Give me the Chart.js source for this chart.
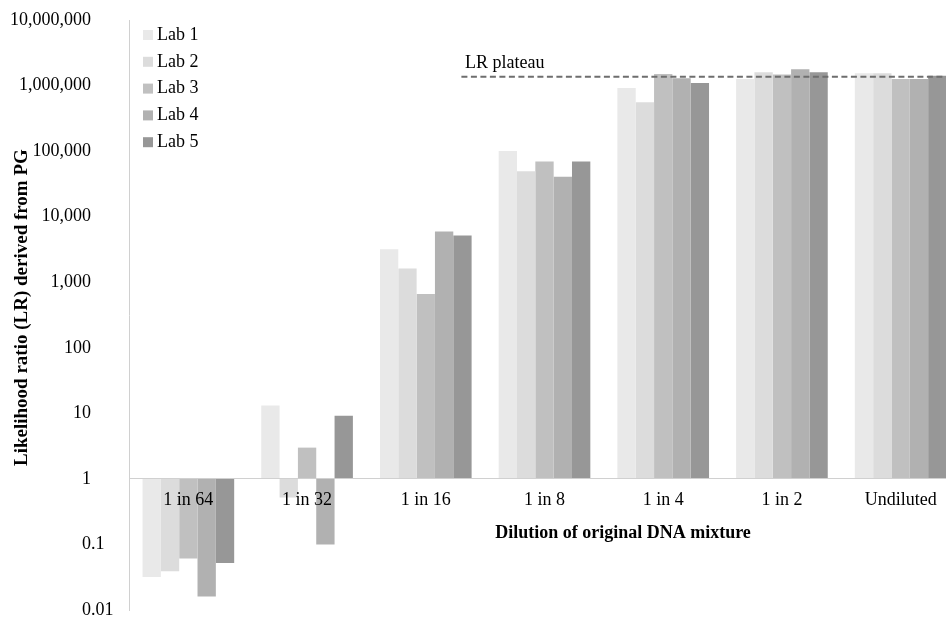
<!DOCTYPE html>
<html>
<head>
<meta charset="utf-8">
<script src="https://cdn.jsdelivr.net/npm/chart.js@4.4.1/dist/chart.umd.min.js"></script>
<style>
  html, body { margin: 0; padding: 0; background: #fff; overflow: hidden; }
  #wrap { width: 960px; height: 617px; }
</style>
</head>
<body>
<div id="wrap"><canvas id="chart" width="960" height="617"></canvas></div>
<script>
// data (LR values, log scale, bars hang from 1)
const dilutions = ['1 in 64', '1 in 32', '1 in 16', '1 in 8', '1 in 4', '1 in 2', 'Undiluted'];
const lab1 = [0.032, 13.2, 3190, 100000, 916000, 1260000, 1540000];
const lab2 = [0.039, 0.52, 1620, 49500, 554000, 1590000, 1540000];
const lab3 = [0.061, 3.0, 662, 69600, 1500000, 1480000, 1260000];
const lab4 = [0.016, 0.10, 5940, 40500, 1290000, 1770000, 1260000];
const lab5 = [0.052, 9.2, 5160, 69600, 1090000, 1590000, 1410000];
const labNames = ['Lab 1', 'Lab 2', 'Lab 3', 'Lab 4', 'Lab 5'];
const labColors = ['#e9e9e9', '#dcdcdc', '#c0c0c0', '#b1b1b1', '#979797'];
const yTickPowers = [-2, -1, 0, 1, 2, 3, 4, 5, 6, 7];
const lrPlateau = 1360000;

const SERIF = "'Liberation Serif', 'Times New Roman', serif";
Chart.defaults.font.family = SERIF;
Chart.defaults.color = '#000';

function fmtInt(v) {
  return Math.round(v).toString().replace(/\B(?=(\d{3})+(?!\d))/g, ',');
}

// y tick labels, excel style (decimal points lined up), legend, titles, plateau line
const extras = {
  id: 'extras',
  afterDraw(chart) {
    const ctx = chart.ctx;
    const ys = chart.scales.y, xs = chart.scales.x;
    const area = chart.chartArea;
    ctx.save();
    ctx.fillStyle = '#000';
    ctx.font = '18px ' + SERIF;
    ctx.textBaseline = 'middle';

    // y tick labels
    const rx = 91;
    yTickPowers.forEach(p => {
      const v = Math.pow(10, p);
      const y = ys.getPixelForValue(v);
      if (p >= 0) {
        ctx.textAlign = 'right';
        ctx.fillText(fmtInt(v), rx, y);
      } else {
        const s = v.toFixed(-p);
        ctx.textAlign = 'right';
        ctx.fillText('0', rx, y);
        ctx.textAlign = 'left';
        ctx.fillText(s.slice(1), rx, y);
      }
    });

    // legend
    ctx.textAlign = 'left';
    labNames.forEach((name, i) => {
      const cy = 35 + i * 26.8;
      ctx.fillStyle = labColors[i];
      ctx.fillRect(143, cy - 5, 10, 10);
      ctx.fillStyle = '#000';
      ctx.fillText(name, 157, cy);
    });

    // LR plateau dashed line
    const cat = (xs.right - xs.left) / dilutions.length;
    const py = ys.getPixelForValue(lrPlateau);
    ctx.strokeStyle = '#6e6e6e';
    ctx.lineWidth = 2;
    ctx.setLineDash([6, 3.5]);
    ctx.beginPath();
    ctx.moveTo(xs.left + 2.8 * cat, py);
    ctx.lineTo(area.right, py);
    ctx.stroke();
    ctx.setLineDash([]);
    ctx.fillText('LR plateau', 465, 63);

    // axis titles
    ctx.font = 'bold 18px ' + SERIF;
    ctx.textAlign = 'center';
    ctx.fillText('Dilution of original DNA mixture', 623, 533);
    ctx.font = 'bold 19px ' + SERIF;
    ctx.translate(22, 466);
    ctx.rotate(-Math.PI / 2);
    ctx.textAlign = 'left';
    ctx.fillText('Likelihood ratio (LR) derived from PG', 0, 0);
    ctx.restore();
  }
};

const allLabs = [lab1, lab2, lab3, lab4, lab5];

new Chart(document.getElementById('chart'), {
  type: 'bar',
  data: {
    labels: dilutions,
    datasets: allLabs.map((d, i) => ({
      label: labNames[i],
      data: d,
      base: 1,
      backgroundColor: labColors[i],
      borderWidth: 0,
      categoryPercentage: 0.772,
      barPercentage: 1.0
    }))
  },
  options: {
    responsive: false,
    animation: false,
    devicePixelRatio: 1,
    layout: { padding: { left: 129, top: 20, right: 0, bottom: 7 } },
    plugins: {
      legend: { display: false },
      tooltip: { enabled: false }
    },
    scales: {
      x: {
        type: 'category',
        axis: 'x',
        position: { y: 1 },
        grid: { display: false, drawTicks: false },
        border: { display: true, color: '#d0d0d0', width: 1, z: 1 },
        ticks: { font: { size: 18 }, color: '#000', padding: 11, maxRotation: 0, autoSkip: false, z: 2 }
      },
      y: {
        type: 'logarithmic',
        position: 'left',
        min: 0.01,
        max: 10000000,
        grid: { display: false, drawTicks: false },
        border: { display: true, color: '#d0d0d0', width: 1 },
        ticks: { display: false }
      }
    }
  },
  plugins: [extras]
});
</script>
</body>
</html>
